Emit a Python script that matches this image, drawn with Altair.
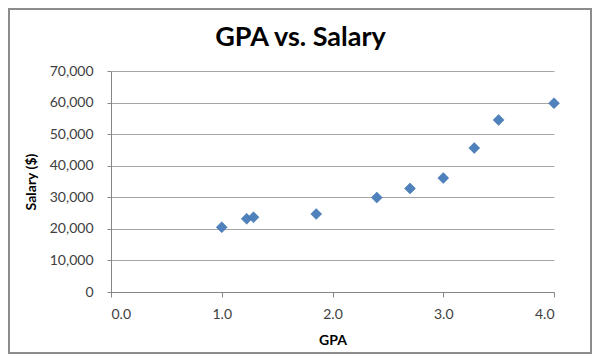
import altair as alt
import pandas as pd

gpa = [1.0, 1.225, 1.287, 1.853, 2.40, 2.70, 3.0, 3.28, 3.50, 4.0]
salary = [20500, 23200, 23700, 24700, 29900, 32800, 36100, 45600, 54500, 59800]

df = pd.DataFrame({"GPA": gpa, "Salary": salary})

W, H = 443, 221
PL, PT, PR, PB = 103, 63, 38, 62

frame = alt.Chart(pd.DataFrame({"a": [0]})).mark_rect(
    fill=None, stroke="#8c8c8c", strokeWidth=2
).encode(
    x=alt.value(-PL + 1), x2=alt.value(W + PR - 1),
    y=alt.value(-PT + 1), y2=alt.value(H + PB - 1),
)

pts = alt.Chart(df).mark_point(
    shape="diamond", filled=True, size=120, color="#4F81BD",
    stroke="#3f6ea6", strokeWidth=0.5, opacity=1
).encode(
    x=alt.X("GPA:Q", scale=alt.Scale(domain=[0, 4], nice=False),
            axis=alt.Axis(values=[0, 1, 2, 3, 4], format=".1f", title="GPA",
                          grid=False, tickSize=5, labelPadding=10, titlePadding=12)),
    y=alt.Y("Salary:Q", scale=alt.Scale(domain=[0, 70000], nice=False),
            axis=alt.Axis(values=list(range(0, 70001, 10000)), format=",.0f",
                          title="Salary ($)", grid=True, tickSize=4,
                          labelPadding=14, titlePadding=11)),
)

chart = alt.layer(frame, pts).properties(
    width=W, height=H,
    autosize=alt.AutoSizeParams(type="none"),
    padding={"left": PL, "top": PT, "right": PR, "bottom": PB},
    title=alt.TitleParams("GPA vs. Salary", anchor="middle", frame="group",
                          fontSize=27, font="Lato", fontWeight="bold",
                          color="#000000", offset=-44, dx=-32),
).configure_axis(
    labelFont="Lato", labelFontSize=14, labelColor="#404040",
    titleFont="Lato", titleFontSize=14, titleFontWeight="bold", titleColor="#000000",
    domainColor="#868686", tickColor="#868686", gridColor="#a6a6a6",
).configure_view(stroke=None)

chart.save("out.html", embed_options={"renderer": "svg", "actions": False})
